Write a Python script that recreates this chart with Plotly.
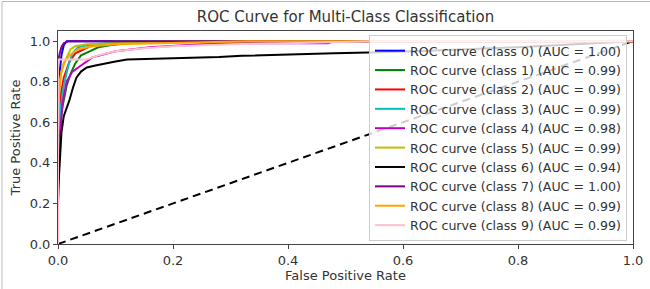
import plotly.graph_objects as go

# ---- data ----
class_names = ["class 0", "class 1", "class 2", "class 3", "class 4",
               "class 5", "class 6", "class 7", "class 8", "class 9"]
auc_values = [1.00, 0.99, 0.99, 0.99, 0.98, 0.99, 0.94, 1.00, 0.99, 0.99]
line_colors = ["blue", "green", "red", "#00bfbf", "#bf00bf",
               "#bfbf00", "black", "purple", "orange", "pink"]

fpr_0 = [0.0, 0.0, 0.003, 0.006, 0.010, 0.015, 0.03, 1.0]
tpr_0 = [0.0, 0.55, 0.85, 0.93, 0.98, 1.00, 1.00, 1.0]

fpr_1 = [0.0, 0.0, 0.004, 0.008, 0.015, 0.022, 0.030, 0.040, 0.055, 0.07, 0.09, 0.15, 1.0]
tpr_1 = [0.0, 0.40, 0.60, 0.68, 0.78, 0.84, 0.89, 0.93, 0.95, 0.97, 0.98, 1.00, 1.0]

fpr_2 = [0.0, 0.0, 0.004, 0.010, 0.020, 0.030, 0.045, 0.060, 0.09, 0.12, 1.0]
tpr_2 = [0.0, 0.50, 0.72, 0.82, 0.90, 0.94, 0.96, 0.98, 0.99, 1.00, 1.0]

fpr_3 = [0.0, 0.0, 0.004, 0.010, 0.018, 0.025, 0.035, 0.05, 0.08, 0.10, 1.0]
tpr_3 = [0.0, 0.50, 0.66, 0.78, 0.88, 0.94, 0.97, 0.98, 0.99, 1.00, 1.0]

fpr_4 = [0.0, 0.0, 0.003, 0.008, 0.015, 0.025, 0.040, 0.060, 0.10, 0.16, 0.25, 0.35, 0.47, 0.48, 1.0]
tpr_4 = [0.0, 0.40, 0.52, 0.70, 0.80, 0.85, 0.88, 0.92, 0.95, 0.97, 0.985, 0.99, 0.99, 1.00, 1.0]

fpr_5 = [0.0, 0.0, 0.003, 0.008, 0.015, 0.022, 0.030, 0.05, 0.10, 0.20, 1.0]
tpr_5 = [0.0, 0.60, 0.80, 0.88, 0.92, 0.96, 0.975, 0.985, 0.99, 1.00, 1.0]

fpr_6 = [0.0, 0.0, 0.002, 0.006, 0.010, 0.014, 0.020, 0.026, 0.032, 0.040, 0.050, 0.065,
         0.08, 0.10, 0.12, 0.20, 0.28, 0.32, 0.40, 0.48, 0.56, 0.62, 0.80, 1.0]
tpr_6 = [0.0, 0.20, 0.35, 0.55, 0.63, 0.66, 0.71, 0.77, 0.82, 0.85, 0.87, 0.88,
         0.89, 0.90, 0.91, 0.915, 0.922, 0.928, 0.935, 0.94, 0.945, 0.95, 0.97, 1.0]

fpr_7 = [0.0, 0.0, 0.0, 0.003, 0.006, 0.010, 0.018, 1.0]
tpr_7 = [0.0, 0.60, 0.90, 0.94, 0.97, 0.99, 1.00, 1.0]

fpr_8 = [0.0, 0.0, 0.002, 0.006, 0.012, 0.020, 0.035, 0.06, 0.10, 0.18, 0.27, 0.33, 1.0]
tpr_8 = [0.0, 0.55, 0.75, 0.85, 0.90, 0.93, 0.96, 0.975, 0.985, 0.99, 0.995, 1.00, 1.0]

fpr_9 = [0.0, 0.0, 0.0, 0.05, 0.07, 0.10, 0.15, 0.20, 0.30, 0.40, 0.55, 1.0]
tpr_9 = [0.0, 0.85, 0.91, 0.91, 0.93, 0.95, 0.965, 0.975, 0.985, 0.99, 1.00, 1.0]

diag_x = [0.0, 1.0]
diag_y = [0.0, 1.0]

x_ticks = [0.0, 0.2, 0.4, 0.6, 0.8, 1.0]
y_ticks = [0.0, 0.2, 0.4, 0.6, 0.8, 1.0]

fpr_all = [fpr_0, fpr_1, fpr_2, fpr_3, fpr_4, fpr_5, fpr_6, fpr_7, fpr_8, fpr_9]
tpr_all = [tpr_0, tpr_1, tpr_2, tpr_3, tpr_4, tpr_5, tpr_6, tpr_7, tpr_8, tpr_9]

FONT = "DejaVu Sans, sans-serif"

fig = go.Figure()
fig.add_trace(go.Scatter(x=diag_x, y=diag_y, mode="lines", showlegend=False,
                         line=dict(color="black", width=2, dash="8px,5px")))
for name, auc, col, fx, ty in zip(class_names, auc_values, line_colors, fpr_all, tpr_all):
    fig.add_trace(go.Scatter(
        x=fx, y=ty, mode="lines", line=dict(color=col, width=2),
        name=f"ROC curve ({name}) (AUC = {auc:.2f})"))

W, H = 650, 289
L, R, T, B = 58, 17, 31, 45
pw, ph = W - L - R, H - T - B

fig.update_layout(
    width=W, height=H,
    margin=dict(l=L, r=R, t=T, b=B, autoexpand=False),
    paper_bgcolor="white", plot_bgcolor="white",
    font=dict(family=FONT, size=13, color="#333"),
    title=dict(text="ROC Curve for Multi-Class Classification", x=(L + pw / 2) / W,
               xanchor="center", y=1 - 17 / H, yanchor="middle",
               font=dict(size=15, color="#333")),
    showlegend=True,
    legend=dict(x=1 - 6 / pw, y=1 - 4 / ph, xanchor="right", yanchor="top",
                bgcolor="rgba(255,255,255,0.8)", bordercolor="#cccccc", borderwidth=1,
                font=dict(size=12.6, color="#333"), tracegroupgap=0, itemwidth=30),
)
fig.update_xaxes(range=[0, 1], tickvals=x_ticks, tickformat=".1f", showgrid=False,
                 automargin=False, zeroline=False, showline=True, linecolor="#444",
                 linewidth=1, mirror=True, ticks="outside", ticklen=4, tickcolor="#444",
                 title=dict(text="False Positive Rate", font=dict(size=13), standoff=4))
fig.update_yaxes(range=[0, 1.05], tickvals=y_ticks, tickformat=".1f", showgrid=False,
                 automargin=False, zeroline=False, showline=True, linecolor="#444",
                 linewidth=1, mirror=True, ticks="outside", ticklen=4, tickcolor="#444",
                 title=dict(text="True Positive Rate", font=dict(size=13), standoff=6))

# thin frame of the screenshot
fig.add_shape(type="rect", xref="paper", yref="paper",
              x0=(-L + 2) / pw, x1=(pw + R + 5) / pw, y0=(-B - 5) / ph, y1=(ph + T - 1.5) / ph,
              line=dict(color="#bbbbbb", width=1), layer="below")

fig.write_html("out.html", config={"displayModeBar": False},
               post_script="document.body.style.margin='0';document.body.style.overflow='hidden';")
